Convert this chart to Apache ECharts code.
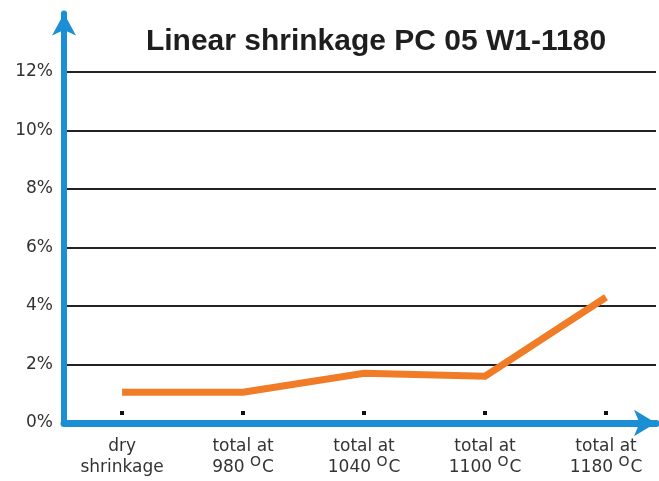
<!DOCTYPE html>
<html>
<head>
<meta charset="utf-8">
<script src="https://cdn.jsdelivr.net/npm/echarts@6/dist/echarts.min.js"></script>
<style>
html,body{margin:0;padding:0;background:#fff;}
#c{width:659px;height:481px;}
</style>
</head>
<body>
<div id="c"></div>
<script>
const titleText = 'Linear shrinkage PC 05 W1-1180';
const categories = [
  ['dry', 'shrinkage'],
  ['total at', '980 °C'],
  ['total at', '1040 °C'],
  ['total at', '1100 °C'],
  ['total at', '1180 °C']
];
const shrinkage = [1.05, 1.05, 1.7, 1.6, 4.3];
const yTicks = [0, 2, 4, 6, 8, 10, 12];

const BLUE = '#1a8fd3';
const ORANGE = '#f07c28';

const catIdx = categories.map((c, i) => i);

const chart = echarts.init(document.getElementById('c'), null, {renderer: 'canvas'});
chart.setOption({
  backgroundColor: '#fff',
  animation: false,
  title: {
    text: titleText,
    left: 371,
    textAlign: 'center',
    top: 22,
    textStyle: {fontFamily: 'Liberation Sans', fontWeight: 'bold', fontSize: 30, color: '#1e1e1e'}
  },
  grid: {left: 64, right: 3, top: 13.5, bottom: 58, containLabel: false},
  xAxis: {
    type: 'value',
    min: -0.48,
    max: 4.413,
    splitLine: {show: false},
    axisLine: {
      show: true, onZero: false,
      lineStyle: {color: BLUE, width: 7},
      symbol: ['none', 'arrow'],
      symbolSize: [20, 22]
    },
    axisTick: {
      show: true, inside: true, length: 12,
      customValues: catIdx,
      lineStyle: {color: '#111', width: 4, type: [4, 8], dashOffset: 4}
    },
    axisLabel: {
      customValues: catIdx,
      margin: 13,
      fontFamily: 'DejaVu Sans',
      fontSize: 17,
      lineHeight: 21,
      color: '#333',
      formatter: function (v) {
        const c = categories[Math.round(v)];
        if (!c) return '';
        return c.map(s => s.replace('°', '{o|O}')).join('\n');
      },
      rich: {
        o: {fontFamily: 'DejaVu Sans', fontSize: 14, color: '#333', padding: [0, 1, 10, 0]}
      }
    }
  },
  yAxis: {
    type: 'value',
    min: 0,
    max: 14,
    interval: 2,
    axisLine: {
      show: true, onZero: false,
      lineStyle: {color: BLUE, width: 6},
      symbol: ['none', 'arrow'],
      symbolSize: [18, 22]
    },
    axisTick: {show: false},
    splitLine: {
      show: true, showMinLine: false, showMaxLine: false,
      lineStyle: {color: '#222', width: 2}
    },
    axisLabel: {
      margin: 11,
      fontFamily: 'DejaVu Sans',
      fontSize: 17,
      color: '#333',
      formatter: function (v) { return yTicks.indexOf(v) >= 0 ? v + '%' : ''; }
    }
  },
  series: [{
    type: 'line',
    data: shrinkage.map((v, i) => [catIdx[i], v]),
    symbol: 'none',
    lineStyle: {color: ORANGE, width: 7, cap: 'butt', join: 'miter'},
    z: 3
  }]
});
</script>
</body>
</html>
